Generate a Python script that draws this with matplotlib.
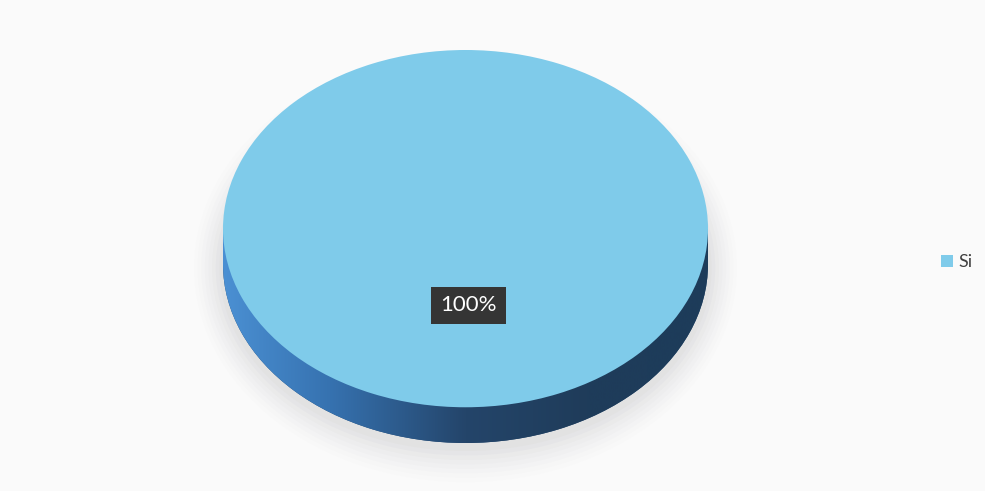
import numpy as np
import matplotlib
matplotlib.use("Agg")
import matplotlib.pyplot as plt
from matplotlib.colors import LinearSegmentedColormap
from matplotlib.patches import Ellipse, Rectangle

categories = ["Si"]
values = [100]
top_colors = ["#7fcbea"]

plt.rcParams['font.family'] = ['Lato', 'DejaVu Sans']

W, H = 985, 491
fig = plt.figure(figsize=(W / 100, H / 100), dpi=100)
fig.patch.set_facecolor("#fafafa")

# axes box around the 3D pie (pixel estimates)
x0, x1 = 223, 708
ytop, ybot = 50, 443
depth = 0.2  # side thickness in y data units (top ellipse ry = 1)
ax = fig.add_axes([x0 / W, (H - ybot) / H, (x1 - x0) / W, (ybot - ytop) / H])
ax.set_facecolor("none")

# soft shadow below the pie
for i, a in enumerate(np.linspace(0.05, 0.012, 8)):
    e = Ellipse((0.0, -depth - 0.02), 2.0 + 0.03 * (i + 1), 2.0 + 0.05 * (i + 1),
                facecolor="#9a9aa0", edgecolor="none", alpha=a, clip_on=False, zorder=0)
    ax.add_patch(e)

# bottom (side) of the pie
bottom_wedges, _ = ax.pie(values, colors=["#244a70"], radius=1, center=(0, -depth),
                          startangle=90, wedgeprops=dict(linewidth=0), frame=False)
rect = Rectangle((-1, -depth), 2, depth, facecolor="none", edgecolor="none")
ax.add_patch(rect)
side_cmap = LinearSegmentedColormap.from_list(
    "side", [(0.0, "#4b90d3"), (0.22, "#3672b0"), (0.5, "#24456a"),
             (0.75, "#1f3c5a"), (1.0, "#1d3c5a")])
grad = np.linspace(0, 1, 256).reshape(1, -1)
for clip in list(bottom_wedges) + [rect]:
    im = ax.imshow(grad, extent=(-1, 1, -1 - depth, 1), cmap=side_cmap,
                   aspect="auto", zorder=1, interpolation="bicubic")
    im.set_clip_path(clip)

# top face
top_wedges, _, autotexts = ax.pie(values, colors=top_colors, radius=1, center=(0, 0),
                                  startangle=90, autopct="%1.0f%%", pctdistance=0.43,
                                  wedgeprops=dict(linewidth=0, zorder=2), frame=False)
for t in autotexts:
    t.set_color("white")
    t.set_fontsize(16)
    t.set_zorder(5)
    t.set_position((0.012, t.get_position()[1]))
    t.set_bbox(dict(facecolor="#353535", edgecolor="none", boxstyle="square,pad=0.4"))

ax.set_aspect("auto")
ax.set_xlim(-1, 1)
ax.set_ylim(-1 - depth, 1)
ax.axis("off")

leg = fig.legend(top_wedges, categories, loc="center left",
                 bbox_to_anchor=(934 / W, 1 - 262 / H), frameon=False,
                 handlelength=0.65, handleheight=0.65, handletextpad=0.3,
                 fontsize=13, borderaxespad=0)
for t in leg.get_texts():
    t.set_color("#404040")

fig.savefig("out.png", dpi=100, facecolor=fig.get_facecolor())
